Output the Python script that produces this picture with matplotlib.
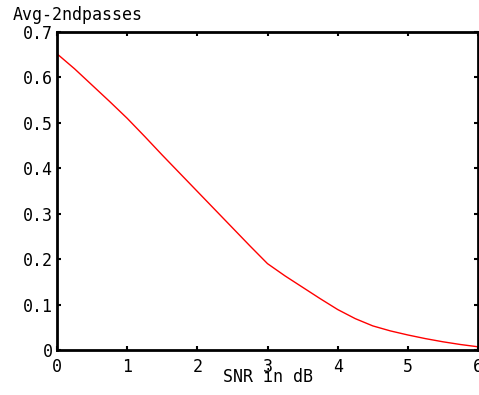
import matplotlib
matplotlib.use("Agg")
import matplotlib.pyplot as plt

# data
snr = [0, 0.25, 0.5, 0.75, 1, 1.25, 1.5, 1.75, 2, 2.25, 2.5, 2.75, 3,
       3.25, 3.5, 3.75, 4, 4.25, 4.5, 4.75, 5, 5.25, 5.5, 5.75, 6]
avg_passes = [0.652, 0.619, 0.583, 0.547, 0.51, 0.47, 0.429, 0.389, 0.349,
              0.309, 0.269, 0.229, 0.19, 0.163, 0.138, 0.113, 0.089, 0.069,
              0.053, 0.042, 0.033, 0.025, 0.018, 0.012, 0.007]
xticks = [0, 1, 2, 3, 4, 5, 6]
yticks = [0, 0.1, 0.2, 0.3, 0.4, 0.5, 0.6, 0.7]

plt.rcParams['font.family'] = 'DejaVu Sans Mono'
plt.rcParams['font.size'] = 12

fig = plt.figure(figsize=(4.79, 3.95), dpi=100)
ax = fig.add_axes([0.119, 0.114, 0.879, 0.805])
ax.plot(snr, avg_passes, color="red", linewidth=1)
ax.set_xlim(0, 6)
ax.set_ylim(0, 0.7)
ax.set_xticks(xticks)
ax.set_yticks(yticks)
ax.set_xticklabels([str(t) for t in xticks])
ax.set_yticklabels(["0"] + [f"{t:.1f}" for t in yticks[1:]])
ax.tick_params(direction="in", length=3, width=1.5, top=True, right=True, pad=3)
ax.tick_params(axis="x", pad=6)
for s in ax.spines.values():
    s.set_linewidth(2)
ax.set_xlabel("SNR in dB", labelpad=-6)
fig.text(0.027, 0.985, "Avg-2ndpasses", ha="left", va="top", fontsize=12)

fig.savefig("out.png", dpi=100)
